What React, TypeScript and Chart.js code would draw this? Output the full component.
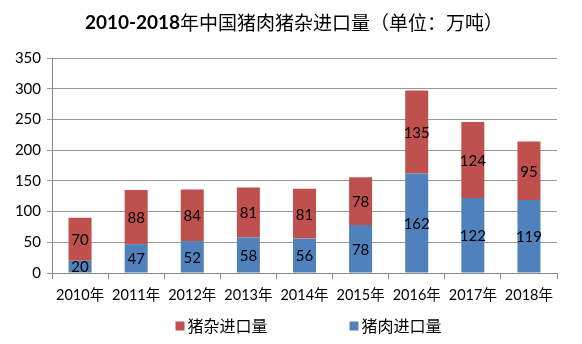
import { useEffect, useRef } from 'react';
import { Chart, registerables } from 'chart.js';

Chart.register(...registerables);

const titleBold = '2010-2018';
const titleRest = '年中国猪肉猪杂进口量（单位：万吨）';
const years = ['2010年', '2011年', '2012年', '2013年', '2014年', '2015年', '2016年', '2017年', '2018年'];
const porkImports = [20, 47, 52, 58, 56, 78, 162, 122, 119];
const offalImports = [70, 88, 84, 81, 81, 78, 135, 124, 95];
const porkLabel = '猪肉进口量';
const offalLabel = '猪杂进口量';
const yMax = 350;
const yStep = 50;

const FONT = 'Lato, "Noto Sans CJK SC", sans-serif';
const RED = '#C0504D';
const BLUE = '#4F81BD';

const labelPlugin = {
  id: 'barLabels',
  afterDatasetsDraw(chart: any) {
    const ctx = chart.ctx;
    ctx.save();
    ctx.font = `15px ${FONT}`;
    ctx.fillStyle = '#000';
    ctx.textAlign = 'center';
    ctx.textBaseline = 'middle';
    chart.data.datasets.forEach((ds: any, i: number) => {
      const meta = chart.getDatasetMeta(i);
      meta.data.forEach((el: any, j: number) => {
        const y = (el.y + el.base) / 2;
        ctx.fillText(String(ds.data[j]), el.x, y + 1);
      });
    });
    ctx.restore();
  },
};

const titleLegendPlugin = {
  id: 'titleLegend',
  afterDraw(chart: any) {
    const ctx = chart.ctx;
    ctx.save();
    // title
    const boldFont = `bold 19px ${FONT}`;
    const normFont = `19px "Noto Sans CJK SC", ${FONT}`;
    ctx.font = boldFont;
    const w1 = ctx.measureText(titleBold).width;
    ctx.font = normFont;
    const w2 = ctx.measureText(titleRest).width;
    let x = chart.width / 2 + 3 - (w1 + w2) / 2;
    const ty = 23;
    ctx.textBaseline = 'middle';
    ctx.textAlign = 'left';
    ctx.fillStyle = '#000';
    ctx.font = boldFont;
    ctx.fillText(titleBold, x, ty);
    ctx.font = normFont;
    ctx.fillText(titleRest, x + w1, ty);

    // legend
    const items = [
      { text: offalLabel, color: RED },
      { text: porkLabel, color: BLUE },
    ];
    ctx.font = `16px "Noto Sans CJK SC", ${FONT}`;
    const box = 9;
    const gapBox = 3;
    const gapItem = 82;
    const widths = items.map((it) => box + gapBox + ctx.measureText(it.text).width);
    const total = widths.reduce((a, b) => a + b, 0) + gapItem;
    const ca = chart.chartArea;
    let lx = (ca.left + ca.right) / 2 + 4 - total / 2;
    const ly = 326;
    items.forEach((it, i) => {
      ctx.fillStyle = it.color;
      ctx.fillRect(lx, ly - box / 2, box, box);
      ctx.fillStyle = '#000';
      ctx.fillText(it.text, lx + box + gapBox, ly);
      lx += widths[i] + gapItem;
    });
    ctx.restore();
  },
};

export default function App() {
  const ref = useRef<HTMLCanvasElement>(null);
  useEffect(() => {
    document.body.style.margin = '0';
    const chart = new Chart(ref.current as HTMLCanvasElement, {
      type: 'bar',
      data: {
        labels: years,
        datasets: [
          { label: porkLabel, data: porkImports, backgroundColor: BLUE },
          { label: offalLabel, data: offalImports, backgroundColor: RED },
        ],
      },
      options: {
        responsive: false,
        animation: false,
        layout: { padding: { top: 58, left: 0, right: 25, bottom: 41 } },
        plugins: {
          legend: { display: false },
          title: { display: false },
          tooltip: { enabled: false },
        },
        datasets: {
          bar: { categoryPercentage: 1, barPercentage: 0.41 },
        },
        scales: {
          x: {
            stacked: true,
            offset: true,
            afterFit: (s: any) => { s.height = 30; },
            grid: {
              display: true,
              offset: true,
              drawOnChartArea: false,
              tickLength: 6,
              color: '#888',
            },
            border: { color: '#888' },
            ticks: {
              font: { family: FONT, size: 14.5 },
              color: '#000',
              padding: 8,
              maxRotation: 0,
            },
          },
          y: {
            stacked: true,
            min: 0,
            max: yMax,
            afterFit: (s: any) => { s.width = 52; },
            grid: { color: '#999', tickLength: 5 },
            border: { color: '#888' },
            ticks: {
              stepSize: yStep,
              font: { family: FONT, size: 15 },
              color: '#000',
              padding: 6,
            },
          },
        },
      },
      plugins: [labelPlugin, titleLegendPlugin],
    } as any);
    return () => chart.destroy();
  }, []);
  return (
    <div style={{ width: 582, height: 344, background: '#fff' }}>
      <canvas ref={ref} width={582} height={344} />
    </div>
  );
}
